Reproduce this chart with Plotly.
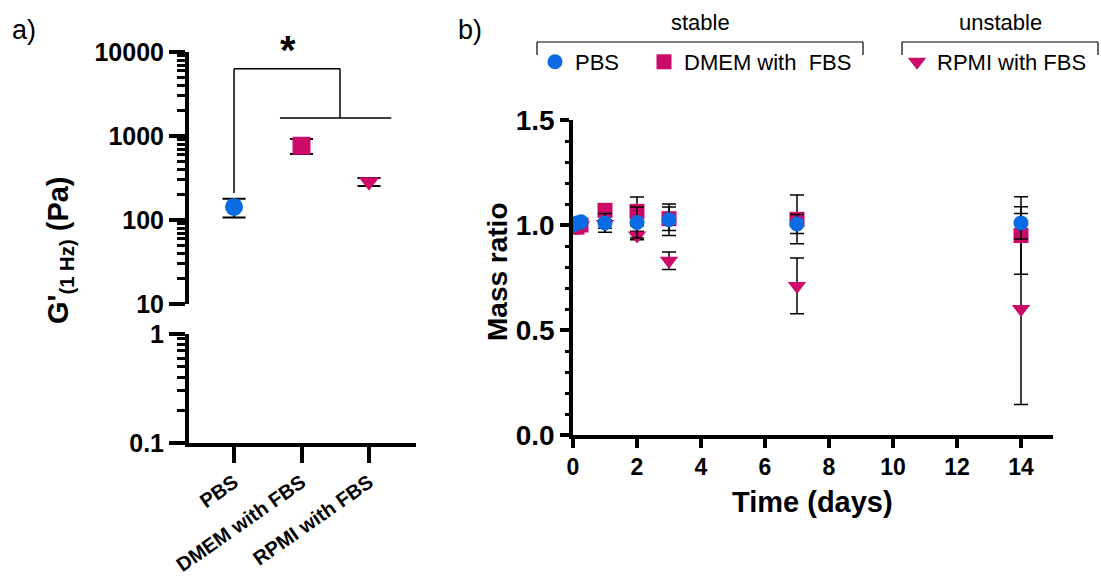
import plotly.graph_objects as go

W, H = 1101, 579
FONT = "Liberation Sans, Arial, sans-serif"
BLUE = "#0A6BE2"
MAG = "#CC0A68"

# ---------------- Panel a data ----------------
categories = ["PBS", "DMEM with FBS", "RPMI with FBS"]
g_mean = [143, 765, 285]
g_sd = [36, 155, 31]
a_symbols = ["circle", "square", "triangle-down"]
a_colors = [BLUE, MAG, MAG]
upper_ticks = [10, 100, 1000, 10000]
upper_ticktext = ["10", "100", "1000", "10000"]
lower_ticks = [0.1, 1]
lower_ticktext = ["0.1", "1"]

# ---------------- Panel b data ----------------
time_days = [0, 0.125, 0.25, 1, 2, 3, 7, 14]
pbs_mass = [1.00, 1.01, 1.015, 1.01, 1.012, 1.025, 1.005, 1.01]
pbs_err = [0.0, 0.01, 0.01, 0.045, 0.074, 0.075, 0.045, 0.077]
dmem_mass = [0.99, 0.99, 1.00, 1.07, 1.065, 1.03, 1.027, 0.95]
dmem_err = [0.0, 0.01, 0.01, 0.01, 0.068, 0.056, 0.116, 0.185]
rpmi_mass = [1.00, 1.00, 1.00, 1.005, 0.95, 0.83, 0.71, 0.60]
rpmi_err = [0.0, 0.01, 0.01, 0.02, 0.02, 0.042, 0.133, 0.455]


def px(x):
    return x / W


def py(y):
    return 1 - y / H


fig = go.Figure()

# empty trace so that the lower (broken) log axis of panel a gets its subplot
fig.add_trace(go.Scatter(x=[], y=[], xaxis="x", yaxis="y2", showlegend=False,
                         hoverinfo="skip", mode="markers"))

# Panel a markers
for i, cat in enumerate(categories):
    fig.add_trace(go.Scatter(
        x=[cat], y=[g_mean[i]],
        mode="markers",
        marker=dict(symbol=a_symbols[i], size=18, color=a_colors[i]),
        error_y=dict(type="data", array=[g_sd[i]], color="black", thickness=2, width=11.5),
        xaxis="x", yaxis="y", showlegend=False,
    ))

# Panel b series (drawn RPMI, DMEM, PBS so PBS is on top)
fig.add_trace(go.Scatter(
    x=time_days, y=rpmi_mass, mode="markers", name="RPMI with FBS",
    marker=dict(symbol="triangle-down", size=16, color=MAG),
    error_y=dict(type="data", array=rpmi_err, color="black", thickness=1.5, width=7),
    xaxis="x3", yaxis="y3", legend="legend3",
))
fig.add_trace(go.Scatter(
    x=time_days, y=dmem_mass, mode="markers", name="DMEM with  FBS",
    marker=dict(symbol="square", size=15, color=MAG),
    error_y=dict(type="data", array=dmem_err, color="black", thickness=1.5, width=7),
    xaxis="x3", yaxis="y3", legend="legend2",
))
fig.add_trace(go.Scatter(
    x=time_days, y=pbs_mass, mode="markers", name="PBS",
    marker=dict(symbol="circle", size=15, color=BLUE),
    error_y=dict(type="data", array=pbs_err, color="black", thickness=1.5, width=7),
    xaxis="x3", yaxis="y3", legend="legend",
))

tickfont_a = dict(family=FONT, size=25, color="black", weight="bold")

layout = dict(
    width=W, height=H,
    margin=dict(l=0, r=0, t=0, b=0, autoexpand=False),
    paper_bgcolor="white", plot_bgcolor="white",
    font=dict(family=FONT, color="black"),
    # ---- panel a ----
    xaxis=dict(
        domain=[px(189), px(416)], anchor="y2", type="category",
        range=[-0.667, 2.696], showline=True, linewidth=4, linecolor="black",
        ticks="outside", ticklen=16, tickwidth=4, tickcolor="black",
        tickangle=-35, showgrid=False, zeroline=False,
        tickfont=dict(family=FONT, size=20, color="black", weight="bold"),
    ),
    yaxis=dict(
        domain=[py(304), py(52)], anchor="x", type="log", range=[1, 4],
        showline=True, linewidth=4, linecolor="black",
        tickmode="array", tickvals=upper_ticks, ticktext=upper_ticktext,
        ticks="outside", ticklen=16, tickwidth=4, tickcolor="black",
        minor=dict(ticks="outside", ticklen=8, tickwidth=3, tickcolor="black", dtick="D1", showgrid=False),
        showgrid=False, zeroline=False, tickfont=tickfont_a,
    ),
    yaxis2=dict(
        domain=[py(443), py(334)], anchor="x", type="log", range=[-1, 0],
        showline=True, linewidth=4, linecolor="black",
        tickmode="array", tickvals=lower_ticks, ticktext=lower_ticktext,
        ticks="outside", ticklen=16, tickwidth=4, tickcolor="black",
        minor=dict(ticks="outside", ticklen=8, tickwidth=3, tickcolor="black", dtick="D1", showgrid=False),
        showgrid=False, zeroline=False, tickfont=tickfont_a,
    ),
    # ---- panel b ----
    xaxis3=dict(
        domain=[px(573), px(1053)], anchor="y3", range=[0, 15],
        showline=True, linewidth=3.5, linecolor="black",
        tickmode="linear", tick0=0, dtick=2,
        ticks="outside", ticklen=9, tickwidth=3.5, tickcolor="black",
        showgrid=False, zeroline=False,
        tickfont=dict(family=FONT, size=23, color="black", weight="bold"),
    ),
    yaxis3=dict(
        domain=[py(435), py(120)], anchor="x3", range=[0, 1.5],
        showline=True, linewidth=3.5, linecolor="black",
        tickmode="linear", tick0=0, dtick=0.5, tickformat=".1f",
        ticks="outside", ticklen=9, tickwidth=3.5, tickcolor="black",
        minor=dict(ticks="outside", ticklen=4, tickwidth=2.5, tickcolor="black", dtick=0.1, showgrid=False),
        showgrid=False, zeroline=False,
        tickfont=dict(family=FONT, size=28, color="black", weight="bold"),
    ),
)

leg_common = dict(orientation="h", yanchor="middle", xanchor="left",
                  bgcolor="rgba(0,0,0,0)", borderwidth=0,
                  font=dict(family=FONT, size=22, color="black"),
                  itemclick=False, itemdoubleclick=False)
layout["legend"] = dict(x=px(555 - 20), y=py(62), **leg_common)
layout["legend2"] = dict(x=px(664 - 20), y=py(62), **leg_common)
layout["legend3"] = dict(x=px(917 - 20), y=py(62), **leg_common)

fig.update_layout(**layout)

# Significance bracket (panel a), data coordinates
br = dict(type="line", xref="x", yref="y", line=dict(color="black", width=1.5))
fig.add_shape(x0=0, x1=0, y0=210, y1=6300, **br)
fig.add_shape(x0=0, x1=1.57, y0=6300, y1=6300, **br)
fig.add_shape(x0=1.57, x1=1.57, y0=6300, y1=1640, **br)
fig.add_shape(x0=0.68, x1=2.33, y0=1640, y1=1640, **br)

# Legend group brackets (panel b)
lb = dict(type="line", xref="paper", yref="paper", line=dict(color="black", width=1.2))
for xl, xr in [(537, 863), (902, 1098)]:
    fig.add_shape(x0=px(xl), x1=px(xl), y0=py(55), y1=py(42), **lb)
    fig.add_shape(x0=px(xl), x1=px(xr), y0=py(42), y1=py(42), **lb)
    fig.add_shape(x0=px(xr), x1=px(xr), y0=py(42), y1=py(55), **lb)

ann = []
ann.append(dict(text="a)", x=px(10), y=py(30), xanchor="left", yanchor="middle",
                font=dict(family=FONT, size=27, color="black")))
ann.append(dict(text="b)", x=px(456), y=py(30), xanchor="left", yanchor="middle",
                font=dict(family=FONT, size=27, color="black")))
ann.append(dict(text="*", x=px(288), y=py(50), xanchor="center", yanchor="middle",
                font=dict(family=FONT, size=40, color="black", weight="bold")))
ann.append(dict(text="stable", x=px(700), y=py(23), xanchor="center", yanchor="middle",
                font=dict(family=FONT, size=22, color="black")))
ann.append(dict(text="unstable", x=px(1000), y=py(23), xanchor="center", yanchor="middle",
                font=dict(family=FONT, size=22, color="black")))
ann.append(dict(text="G'<sub>(1 Hz)</sub> (Pa)", x=px(60), y=py(250), textangle=-90,
                xanchor="center", yanchor="middle",
                font=dict(family=FONT, size=29, color="black", weight="bold")))
ann.append(dict(text="Mass ratio", x=px(497), y=py(272), textangle=-90,
                xanchor="center", yanchor="middle",
                font=dict(family=FONT, size=28, color="black", weight="bold")))
ann.append(dict(text="Time (days)", x=px(812), y=py(502), xanchor="center", yanchor="middle",
                font=dict(family=FONT, size=29, color="black", weight="bold")))
for a in ann:
    a.update(xref="paper", yref="paper", showarrow=False)
fig.update_layout(annotations=ann)

fig.write_html("out.html")
